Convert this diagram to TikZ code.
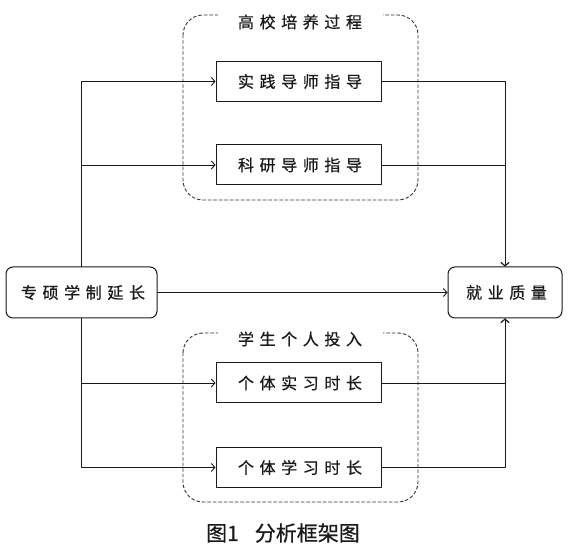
\documentclass[tikz,border=0pt]{standalone}
\usepackage{fontspec}
\usetikzlibrary{arrows.meta,calc,positioning}
\newfontfamily\kuangfont[LetterSpace=35,FakeBold=0.6]{Noto Sans CJK SC}
\newfontfamily\captionfont[FakeBold=0.6]{Noto Sans CJK SC}
\definecolor{kuangInk}{HTML}{1A1A1A}
\definecolor{kuangDash}{HTML}{333333}
\definecolor{kuangPaper}{HTML}{FFFFFF}

\begin{document}
\begin{tikzpicture}[x=1pt,y=-1pt,>={Straight Barb[length=3.5pt,width=8pt]},line cap=round,line join=round]
\path[fill=kuangPaper] (0,0) rectangle (574,553);
\tikzset{wire/.style={draw=kuangInk,line width=0.9pt},group/.style={draw=kuangDash,line width=0.9pt,dash pattern=on 3pt off 2.5pt,rounded corners=20pt},endbox/.style={draw=kuangInk,line width=1pt,rounded corners=7pt,minimum height=51pt,inner sep=0pt,font=\kuangfont\fontsize{16}{19}\selectfont,text=kuangInk},midbox/.style={draw=kuangInk,line width=1pt,fill=kuangPaper,minimum width=165pt,minimum height=40pt,inner sep=0pt,font=\kuangfont\fontsize{16}{19}\selectfont,text=kuangInk},grouptitle/.style={fill=kuangPaper,minimum width=165pt,minimum height=17pt,inner sep=0pt,font=\kuangfont\fontsize{16}{19}\selectfont,text=kuangInk}}
\draw[group] (183,15) rectangle (418,200); \draw[group] (183,333) rectangle (418,502);
\node[grouptitle] (gaoxiao) at (300,22) {高校培养过程}; \node[grouptitle] (touru) at (300,339) {学生个人投入};
\node[endbox,minimum width=151pt] (zhuanshuo) at (81.5,292.5) {\hspace{3pt}专硕学制延长};
\node[endbox,minimum width=114pt] (jiuye) at (505,292.5) {\hspace{3pt}就业质量};
\node[midbox] (shijian) at (298.5,81.5) {\hspace{3pt}实践导师指导}; \node[midbox] (keyan) at (298.5,165) {\hspace{3pt}科研导师指导};
\node[midbox] (shixi) at (298.5,383) {\hspace{3pt}个体实习时长}; \node[midbox] (xuexi) at (298.5,467.5) {\hspace{3pt}个体学习时长};
\draw[wire,->] (zhuanshuo.north) |- (shijian.west); \draw[wire,->] (zhuanshuo.north) |- (keyan.west);
\draw[wire,->] (zhuanshuo.south) |- (shixi.west); \draw[wire,->] (zhuanshuo.south) |- (xuexi.west);
\draw[wire,->] (zhuanshuo.east) -- (jiuye.west);
\draw[wire,->] (shijian.east) -| (jiuye.north); \draw[wire,->] (keyan.east) -| (jiuye.north);
\draw[wire,->] (shixi.east) -| (jiuye.south); \draw[wire,->] (xuexi.east) -| (jiuye.south);
\node[font=\captionfont\fontsize{21}{24}\selectfont,text=kuangInk] (tuming) at (283,533) {图1\hspace{16pt}分析框架图};
\end{tikzpicture}
\end{document}
